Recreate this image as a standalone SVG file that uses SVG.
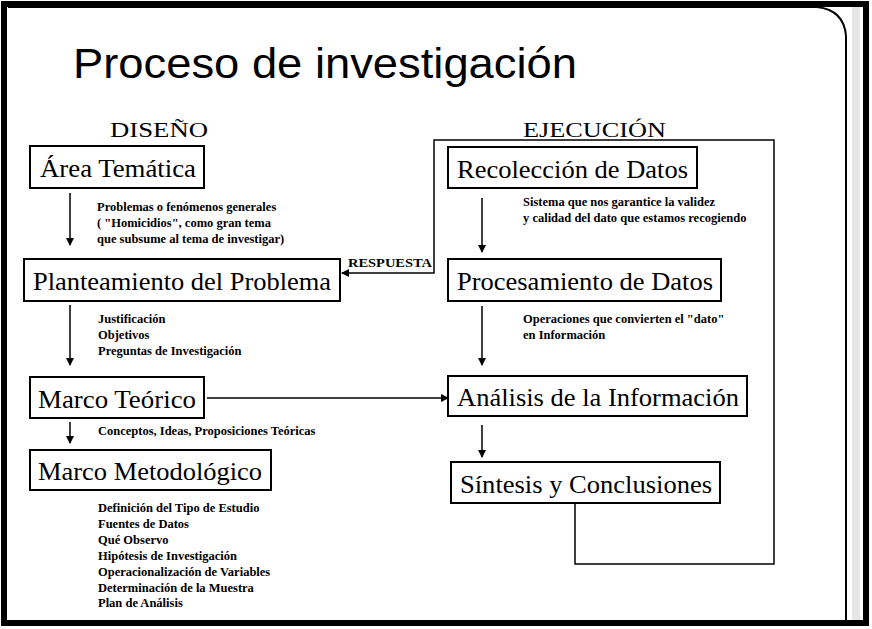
<svg xmlns="http://www.w3.org/2000/svg" width="872" height="629" viewBox="0 0 872 629">
<style>
.box{fill:#fff;stroke:#000;stroke-width:2}
.bt{font-family:"Liberation Serif",serif;font-size:25px;fill:#000}
.st{font-family:"Liberation Serif",serif;font-size:12.5px;font-weight:bold;fill:#000}
.hd{font-family:"Liberation Serif",serif;font-size:22px;fill:#000}
.ln{fill:none;stroke:#000;stroke-width:1.5}
</style>
<defs><marker id="ah" markerWidth="8" markerHeight="8" refX="7" refY="4" orient="auto" markerUnits="userSpaceOnUse"><path d="M0,0 L8,4 L0,8 Z" fill="#000"/></marker></defs>
<rect x="0" y="0" width="872" height="629" fill="#fff"/>
<rect x="852" y="5" width="8" height="615" fill="#e6e6e6"/>
<path d="M8,7 H817 Q844,10 846,36 V620" fill="none" stroke="#000" stroke-width="2"/>
<rect x="4" y="4" width="862" height="619" fill="none" stroke="#000" stroke-width="6"/>
<text x="73" y="78" font-family="Liberation Sans,sans-serif" font-size="43" textLength="504" lengthAdjust="spacingAndGlyphs">Proceso de investigación</text>
<text class="hd" x="110" y="137" textLength="98" lengthAdjust="spacingAndGlyphs">DISEÑO</text>
<text class="hd" x="523" y="137" textLength="143" lengthAdjust="spacingAndGlyphs">EJECUCIÓN</text>
<g id="connectors">
<path class="ln" d="M575,503 V564 H774 V140 H434 V273 H342" marker-end="url(#ah)"/>
<path class="ln" d="M70,193 V245" marker-end="url(#ah)"/>
<path class="ln" d="M70,305 V365" marker-end="url(#ah)"/>
<path class="ln" d="M70,422 V443" marker-end="url(#ah)"/>
<path class="ln" d="M207,398 H448" marker-end="url(#ah)"/>
<path class="ln" d="M482,198 V252" marker-end="url(#ah)"/>
<path class="ln" d="M482,306 V365" marker-end="url(#ah)"/>
<path class="ln" d="M482,425 V457" marker-end="url(#ah)"/>
<text class="st" x="348" y="267" textLength="84" lengthAdjust="spacingAndGlyphs">RESPUESTA</text>
</g>
<g id="area"><rect class="box" x="30" y="146" width="174" height="42"/><text class="bt" x="40" y="177" textLength="156" lengthAdjust="spacingAndGlyphs">Área Temática</text>
<text class="st" x="97" y="211">Problemas o fenómenos generales</text><text class="st" x="97" y="227">( "Homicidios", como gran tema</text><text class="st" x="97" y="243">que subsume al tema de investigar)</text></g>
<g id="planteamiento"><rect class="box" x="24" y="259" width="316" height="42"/><text class="bt" x="33" y="290" textLength="298" lengthAdjust="spacingAndGlyphs">Planteamiento del Problema</text>
<text class="st" x="98" y="323">Justificación</text><text class="st" x="98" y="339">Objetivos</text><text class="st" x="98" y="355">Preguntas de Investigación</text></g>
<g id="marco-teorico"><rect class="box" x="30" y="377" width="174" height="41"/><text class="bt" x="38" y="408" textLength="158" lengthAdjust="spacingAndGlyphs">Marco Teórico</text>
<text class="st" x="98" y="435">Conceptos, Ideas, Proposiciones Teóricas</text></g>
<g id="marco-metodologico"><rect class="box" x="30" y="450" width="241" height="40"/><text class="bt" x="38" y="480" textLength="224" lengthAdjust="spacingAndGlyphs">Marco Metodológico</text>
<text class="st" x="98" y="512">Definición del Tipo de Estudio</text><text class="st" x="98" y="528">Fuentes de Datos</text><text class="st" x="98" y="544">Qué Observo</text><text class="st" x="98" y="560">Hipótesis de Investigación</text><text class="st" x="98" y="576">Operacionalización de Variables</text><text class="st" x="98" y="592">Determinación de la Muestra</text><text class="st" x="98" y="607">Plan de Análisis</text></g>
<g id="recoleccion"><rect class="box" x="448" y="147" width="249" height="41"/><text class="bt" x="457" y="178" textLength="231" lengthAdjust="spacingAndGlyphs">Recolección de Datos</text>
<text class="st" x="523" y="206">Sistema que nos garantice la validez</text><text class="st" x="523" y="222">y calidad del dato que estamos recogiendo</text></g>
<g id="procesamiento"><rect class="box" x="448" y="259" width="273" height="42"/><text class="bt" x="457" y="290" textLength="256" lengthAdjust="spacingAndGlyphs">Procesamiento de Datos</text>
<text class="st" x="523" y="323">Operaciones que convierten el "dato"</text><text class="st" x="523" y="339">en Información</text></g>
<g id="analisis"><rect class="box" x="448" y="376" width="299" height="40"/><text class="bt" x="457" y="406" textLength="282" lengthAdjust="spacingAndGlyphs">Análisis de la Información</text></g>
<g id="sintesis"><rect class="box" x="451" y="462" width="269" height="41"/><text class="bt" x="460" y="493" textLength="252" lengthAdjust="spacingAndGlyphs">Síntesis y Conclusiones</text></g>
</svg>
